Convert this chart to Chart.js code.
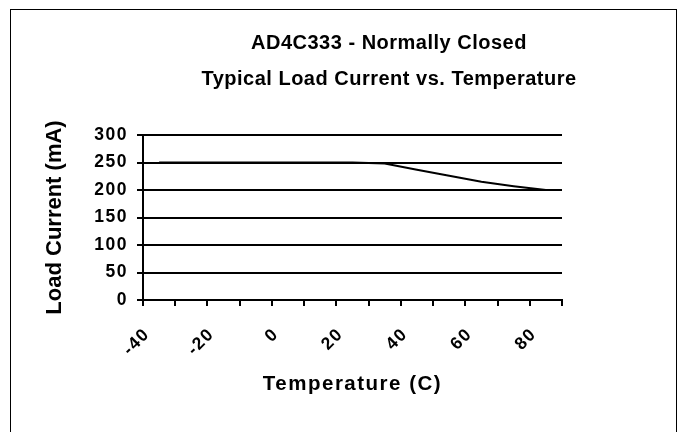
<!DOCTYPE html>
<html>
<head>
<meta charset="utf-8">
<script src="https://cdn.jsdelivr.net/npm/chart.js@4/dist/chart.umd.min.js"></script>
<style>
  html, body { margin: 0; padding: 0; background: #fff; }
  canvas { display: block; }
</style>
</head>
<body>
<canvas id="c" width="684" height="432"></canvas>
<script>
// ---- data ----
const temperatures = ['-40', '-30', '-20', '-10', '0', '10', '20', '30', '40', '50', '60', '70', '80'];
const loadCurrent  = [250, 250, 250, 250, 250, 250, 250, 248, 237, 226, 215, 207, 200];
const yMin = 0, yMax = 300, yStep = 50;
const titleLines = ['AD4C333 - Normally Closed', 'Typical Load Current vs. Temperature'];
const xTitle = 'Temperature (C)';
const yTitle = 'Load Current (mA)';

const FONT = "'Liberation Sans', Arial, sans-serif";

const spacingPlugin = {
  id: 'spacing',
  beforeDraw(chart) {
    const ctx = chart.ctx;
    ctx.save();
    ctx.fillStyle = '#fff';
    ctx.fillRect(0, 0, chart.width, chart.height);
    ctx.restore();
    ctx.letterSpacing = '0px';
  },
  afterDatasetsDraw(chart) {
    chart.ctx.letterSpacing = '1.5px';
  },
  afterDraw(chart) {
    const ctx = chart.ctx;
    ctx.save();
    ctx.letterSpacing = '0.5px';
    ctx.fillStyle = '#000';
    ctx.font = 'bold 20px ' + FONT;
    ctx.textAlign = 'center';
    ctx.textBaseline = 'alphabetic';
    ctx.fillText(titleLines[0], 389, 49);
    ctx.fillText(titleLines[1], 389, 85);
    ctx.letterSpacing = '0px';
    ctx.strokeStyle = '#000';
    ctx.lineWidth = 1;
    ctx.strokeRect(10.5, 9.5, 666, 440);
    ctx.restore();
  }
};

new Chart(document.getElementById('c'), {
  type: 'line',
  data: {
    labels: temperatures,
    datasets: [{
      data: loadCurrent,
      borderColor: '#000',
      borderWidth: 2,
      pointRadius: 0,
      tension: 0,
      fill: false
    }]
  },
  options: {
    responsive: false,
    animation: false,
    layout: { padding: { left: 0, right: 122, top: 135, bottom: 0 } },
    plugins: { legend: { display: false }, tooltip: { enabled: false }, title: { display: false } },
    scales: {
      x: {
        type: 'category',
        offset: true,
        afterFit(scale) { scale.height = 132; },
        grid: {
          offset: true,
          drawOnChartArea: false,
          drawTicks: true,
          tickLength: 6,
          color: '#000',
          lineWidth: 2,
          z: 1
        },
        border: { display: true, color: '#000', width: 2, z: 1 },
        ticks: {
          autoSkip: false,
          minRotation: 45,
          maxRotation: 45,
          padding: 18,
          labelOffset: -12,
          color: '#000',
          font: { family: FONT, size: 17.5, weight: 'bold' },
          z: 1,
          callback(value, index) { return index % 2 === 0 ? this.getLabelForValue(value) : ''; }
        },
        title: {
          display: true,
          text: xTitle,
          color: '#000',
          font: { family: FONT, size: 20.5, weight: 'bold' },
          padding: { top: 0, bottom: 35 }
        }
      },
      y: {
        min: yMin,
        max: yMax,
        afterFit(scale) { scale.width = 143; },
        grid: {
          drawOnChartArea: true,
          drawTicks: true,
          tickLength: 6,
          color: '#000',
          lineWidth: 2,
          z: -1
        },
        border: { display: true, color: '#000', width: 2 },
        ticks: {
          stepSize: yStep,
          padding: 9,
          color: '#000',
          font: { family: FONT, size: 17.5, weight: 'bold' },
          z: 1
        },
        title: {
          display: true,
          text: yTitle,
          color: '#000',
          font: { family: FONT, size: 22, weight: 'bold' },
          padding: { top: 42, bottom: 0 }
        }
      }
    }
  },
  plugins: [spacingPlugin]
});
</script>
</body>
</html>
